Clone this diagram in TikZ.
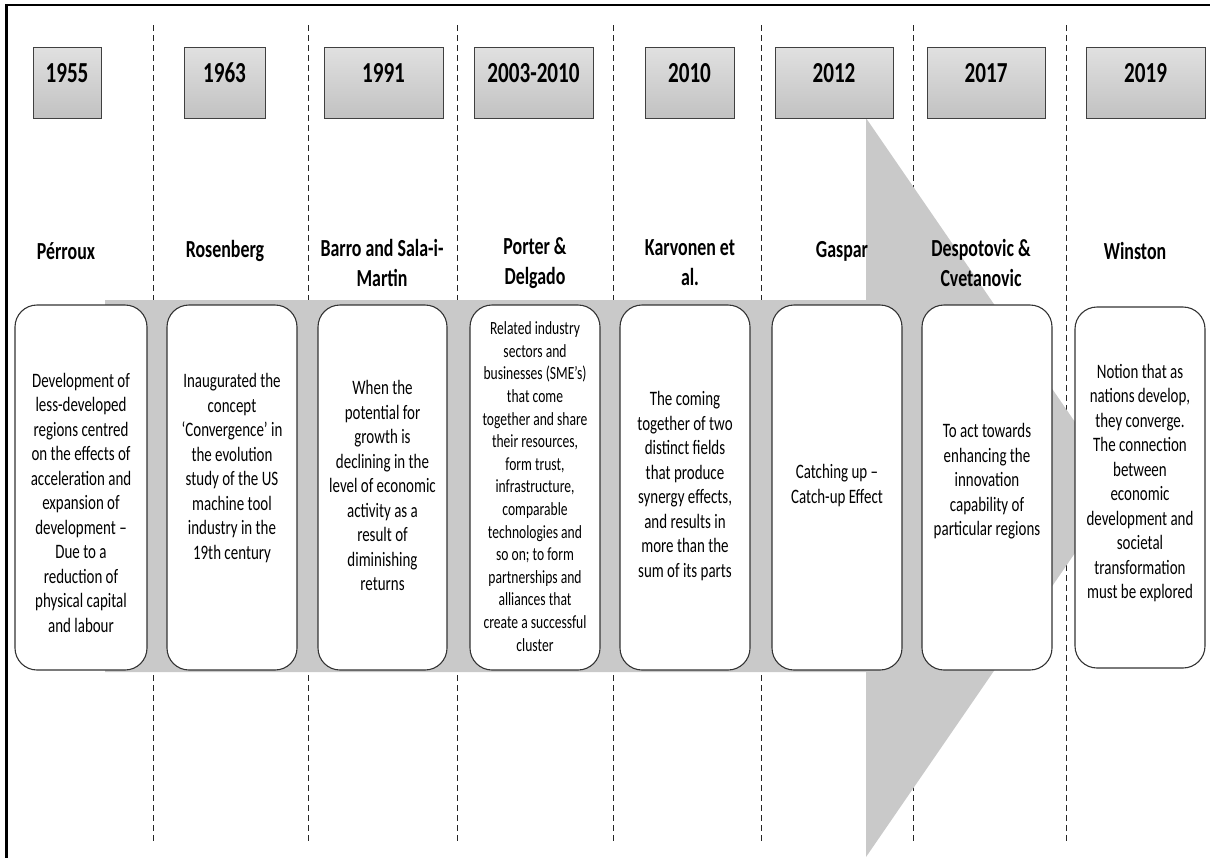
\documentclass[tikz,border=0pt]{standalone}
\usepackage{fontspec}
\setmainfont{Carlito}[FakeStretch=0.73]
\definecolor{arrowgray}{HTML}{C9C9C9}
\definecolor{framegray}{HTML}{333333}
\begin{document}
\begin{tikzpicture}[x=1pt,y=-1pt,
  yearbox/.style={draw=black!75, line width=1pt, top color=black!12, bottom color=black!24,
    minimum width=#1, minimum height=71pt, inner sep=0pt},
  yeartext/.style={font=\bfseries\fontsize{29}{35}\selectfont, inner sep=0pt},
  nametext/.style={font=\bfseries\fontsize{24.5}{30}\selectfont, align=center, inner sep=0pt},
  card/.style={draw=framegray, line width=1.1pt, fill=white, rounded corners=22pt,
    minimum width=130pt, minimum height=365pt, inner sep=0pt},
  cardtext/.style={font=\fontsize{20.5}{24.5}\selectfont, align=center, inner sep=0pt},
  smalltext/.style={font=\fontsize{18.6}{22.6}\selectfont, align=center, inner sep=0pt},
  divider/.style={draw=black!85, line width=0.8pt, dash pattern=on 6pt off 4pt}]

\useasboundingbox (0,0) rectangle (1210,857);
\clip (0,0) rectangle (1210,857);

% outer frame (runs past the right and bottom edges)
\draw[line width=2.6pt] (6.5,900) |- (1300,5);

% column dividers
\foreach \x/\n in {153/1,308/2,457/3,613/4,761/5,913/6,1066/7}
  \coordinate (dt\n) at (\x,25);
\foreach \x/\n in {153/1,308/2,457/3,613/4,761/5,913/6,1066/7}
  \coordinate (db\n) at (\x,842);
\foreach \n in {1,...,7}
  \draw[divider] (dt\n) -- (db\n);

% large background arrow
\fill[arrowgray] (105,300) -- (866,300) -- (866,118) -- (1120,487.5)
  -- (866,857) -- (866,672) -- (105,672) -- cycle;

% year boxes
\node[yearbox=68pt]  (y1) at (67,82.5) {};
\node[yearbox=81pt]  (y2) at (224.5,82.5) {};
\node[yearbox=119pt] (y3) at (383.5,82.5) {};
\node[yearbox=119pt] (y4) at (533.5,82.5) {};
\node[yearbox=89pt]  (y5) at (689.5,82.5) {};
\node[yearbox=118pt] (y6) at (834,82.5) {};
\node[yearbox=118pt] (y7) at (986,82.5) {};
\node[yearbox=119pt] (y8) at (1145.5,82.5) {};

\node[yeartext] (yt1) at (67,73) {1955};
\node[yeartext] (yt2) at (224.5,73) {1963};
\node[yeartext] (yt3) at (383.5,73) {1991};
\node[yeartext] (yt4) at (533.5,73) {2003-2010};
\node[yeartext] (yt5) at (689.5,73) {2010};
\node[yeartext] (yt6) at (834,73) {2012};
\node[yeartext] (yt7) at (986,73) {2017};
\node[yeartext] (yt8) at (1145.5,73) {2019};

% authors
\node[nametext] (n1) at (66,251) {Pérroux};
\node[nametext] (n2) at (225,251) {Rosenberg};
\node[nametext] (n3) at (382,263) {Barro and Sala-i-\\Martin};
\node[nametext] (n4) at (535,263) {Porter \&\\Delgado};
\node[nametext] (n5) at (690,263) {Karvonen et\\al.};
\node[nametext] (n6) at (842,251) {Gaspar};
\node[nametext] (n7) at (981,263) {Despotovic \&\\Cvetanovic};
\node[nametext] (n8) at (1135,251) {Winston};

% description cards
\node[card, minimum width=132pt] (c1) at (81,487.5) {};
\node[card] (c2) at (232,487.5) {};
\node[card, minimum width=129pt] (c3) at (382.5,487.5) {};
\node[card] (c4) at (535,487.5) {};
\node[card] (c5) at (685,487.5) {};
\node[card] (c6) at (837,487.5) {};
\node[card] (c7) at (987,487.5) {};
\node[card, minimum height=361pt] (c8) at (1140,487.5) {};

\node[cardtext] (d1) at (81,502.5) {Development of\\less-developed\\regions centred\\on the effects of\\acceleration and\\expansion of\\development –\\Due to a\\reduction of\\physical capital\\and labour};
\node[cardtext] (d2) at (232,468) {Inaugurated the\\concept\\‘Convergence’ in\\the evolution\\study of the US\\machine tool\\industry in the\\19th century};
\node[cardtext] (d3) at (382.5,485.5) {When the\\potential for\\growth is\\declining in the\\level of economic\\activity as a\\result of\\diminishing\\returns};
\node[smalltext] (d4) at (535,486.5) {Related industry\\sectors and\\businesses (SME’s)\\that come\\together and share\\their resources,\\form trust,\\infrastructure,\\comparable\\technologies and\\so on; to form\\partnerships and\\alliances that\\create a successful\\cluster};
\node[cardtext] (d5) at (685,486) {The coming\\together of two\\distinct fields\\that produce\\synergy effects,\\and results in\\more than the\\sum of its parts};
\node[cardtext] (d6) at (837,485.5) {Catching up –\\Catch-up Effect};
\node[cardtext] (d7) at (987,481.5) {To act towards\\enhancing the\\innovation\\capability of\\particular regions};
\node[cardtext] (d8) at (1140,483) {Notion that as\\nations develop,\\they converge.\\The connection\\between\\economic\\development and\\societal\\transformation\\must be explored};
\end{tikzpicture}
\end{document}
